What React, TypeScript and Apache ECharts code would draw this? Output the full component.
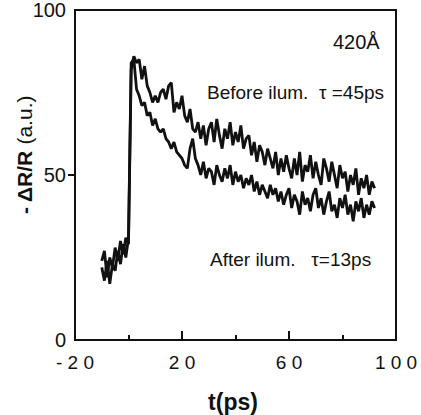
import React, { useEffect, useRef } from "react";
import * as echarts from "echarts";

// Sampling grid (ps)
const timePs = [
  -10, -9, -8, -7, -6, -5, -4, -3, -2, -1, 0, 1, 2, 3, 4, 5, 6, 7, 8, 9, 10,
  11, 12, 13, 14, 15, 16, 17, 18, 19, 20, 21, 22, 23, 24, 25, 26, 27, 28, 29, 30,
  31, 32, 33, 34, 35, 36, 37, 38, 39, 40, 41, 42, 43, 44, 45, 46, 47, 48, 49, 50,
  51, 52, 53, 54, 55, 56, 57, 58, 59, 60, 61, 62, 63, 64, 65, 66, 67, 68, 69, 70,
  71, 72, 73, 74, 75, 76, 77, 78, 79, 80, 81, 82, 83, 84, 85, 86, 87, 88, 89, 90,
  91, 92,
];

// Before illumination, tau = 45 ps
const beforeIlum = [
  24, 27, 19, 25, 22, 28, 24, 30, 26, 31, 29, 82, 86, 84, 85, 79, 83, 77, 75, 72, 74,
  72, 75, 76, 73, 77, 78, 69, 72, 70, 74, 68, 66, 70, 64, 63, 66, 61, 65, 59, 64,
  66, 60, 67, 62, 58, 64, 61, 66, 59, 63, 60, 65, 58, 61, 62, 56, 60, 54, 59, 57,
  53, 58, 55, 52, 57, 50, 55, 51, 56, 52, 49, 55, 50, 57, 48, 53, 51, 56, 49, 54,
  50, 47, 55, 52, 48, 54, 50, 46, 53, 49, 51, 45, 50, 47, 52, 44, 49, 46, 50, 44,
  48, 46,
];

// After illumination, tau = 13 ps
const afterIlum = [
  22, 18, 24, 17, 23, 21, 27, 23, 29, 25, 31, 84, 85, 76, 74, 71, 72, 68, 69, 65, 67,
  64, 63, 64, 61, 60, 58, 60, 57, 56, 55, 53, 52, 58, 61, 55, 53, 50, 54, 49, 52,
  51, 47, 53, 50, 48, 52, 49, 53, 47, 51, 48, 50, 46, 49, 47, 50, 45, 48, 44, 47,
  45, 43, 47, 44, 46, 42, 45, 41, 44, 46, 40, 44, 42, 38, 45, 41, 43, 39, 44, 46,
  40, 43, 38, 42, 45, 39, 41, 37, 43, 40, 44, 38, 41, 36, 42, 39, 43, 37, 41, 38,
  42, 40,
];

const xRange = { min: -20, max: 100, interval: 40 };
const yRange = { min: 0, max: 100, interval: 50 };
const yTickValues = [50];

const FONT = "'Liberation Sans', Arial, Helvetica, sans-serif";
const INK = "#111";

export default function App() {
  const ref = useRef<HTMLDivElement>(null);

  useEffect(() => {
    if (!ref.current) return;
    const chart = echarts.init(ref.current, undefined, { renderer: "svg" });
    const toPairs = (ys: number[]) => timePs.map((t, i) => [t, ys[i]]);
    chart.setOption({
      animation: false,
      backgroundColor: "#ffffff",
      grid: {
        left: 75,
        top: 10,
        width: 321,
        height: 330,
        show: true,
        borderColor: INK,
        borderWidth: 2,
        backgroundColor: "transparent",
      },
      xAxis: {
        type: "value",
        min: xRange.min,
        max: xRange.max,
        interval: xRange.interval,
        axisLine: { onZero: false, lineStyle: { color: INK, width: 2 } },
        axisTick: { show: true, inside: true, length: 9, lineStyle: { color: INK, width: 2 } },
        minorTick: { show: true, splitNumber: 2, length: 5, lineStyle: { color: INK, width: 2 } },
        splitLine: { show: false },
        minorSplitLine: { show: false },
        axisLabel: {
          color: INK,
          fontSize: 19,
          fontFamily: FONT,
          margin: 13,
          formatter: (v: number) => String(v).split("").join(" "),
        },
      },
      yAxis: {
        type: "value",
        min: yRange.min,
        max: yRange.max,
        interval: yRange.interval,
        axisLine: { onZero: false, lineStyle: { color: INK, width: 2 } },
        axisTick: {
          show: true,
          inside: false,
          length: 7,
          customValues: yTickValues,
          lineStyle: { color: INK, width: 2 },
        },
        splitLine: { show: false },
        axisLabel: {
          color: INK,
          fontSize: 20,
          fontFamily: FONT,
          margin: 9,
        },
      },
      series: [
        {
          name: "Before ilum.",
          type: "line",
          data: toPairs(beforeIlum),
          showSymbol: false,
          lineStyle: { color: INK, width: 2.8 },
          z: 3,
        },
        {
          name: "After ilum.",
          type: "line",
          data: toPairs(afterIlum),
          showSymbol: false,
          lineStyle: { color: INK, width: 2.8 },
          z: 3,
        },
      ],
      graphic: [
        {
          type: "text",
          x: 24,
          y: 155,
          rotation: Math.PI / 2,
          style: {
            text: "{b|- ΔR/R}{n| (a.u.)}",
            align: "center",
            verticalAlign: "middle",
            fill: INK,
            rich: {
              b: { fontSize: 21, fontWeight: "bold", fontFamily: FONT, fill: INK },
              n: { fontSize: 21, fontFamily: FONT, fill: INK },
            },
          },
        },
        {
          type: "text",
          x: 233,
          y: 402,
          style: {
            text: "t(ps)",
            align: "center",
            verticalAlign: "middle",
            fontSize: 23,
            fontWeight: "bold",
            fontFamily: FONT,
            fill: INK,
          },
        },
        {
          type: "text",
          x: 333,
          y: 42,
          style: {
            text: "420Å",
            align: "left",
            verticalAlign: "middle",
            fontSize: 20,
            fontFamily: FONT,
            fill: INK,
          },
        },
        {
          type: "text",
          x: 207,
          y: 92,
          style: {
            text: "Before ilum.  τ =45ps",
            align: "left",
            verticalAlign: "middle",
            fontSize: 19,
            fontFamily: FONT,
            fill: INK,
          },
        },
        {
          type: "text",
          x: 210,
          y: 259,
          style: {
            text: "After ilum.   τ=13ps",
            align: "left",
            verticalAlign: "middle",
            fontSize: 19,
            fontFamily: FONT,
            fill: INK,
          },
        },
      ],
    });
    return () => chart.dispose();
  }, []);

  return (
    <div
      ref={ref}
      style={{ position: "fixed", left: 0, top: 0, width: 421, height: 415, background: "#fff" }}
    />
  );
}
